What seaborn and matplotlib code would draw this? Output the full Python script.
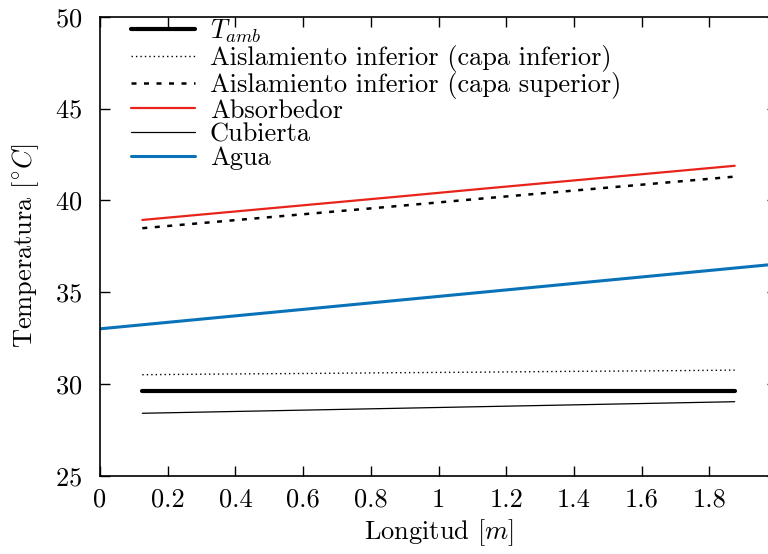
import numpy as np
import pandas as pd
import matplotlib
matplotlib.use("Agg")
import matplotlib.pyplot as plt
import seaborn as sns
from matplotlib.ticker import FuncFormatter

# Node positions along the collector (m)
x_nodes = [0.125, 0.375, 0.625, 0.875, 1.125, 1.375, 1.625, 1.875]
x_water = [0.0, 2.0]

# Temperatures (°C)
t_amb = [29.6, 29.6, 29.6, 29.6, 29.6, 29.6, 29.6, 29.6]
t_ins_low = [30.50, 30.54, 30.57, 30.61, 30.64, 30.68, 30.71, 30.75]
t_ins_up = [38.48, 38.88, 39.28, 39.68, 40.09, 40.49, 40.89, 41.29]
t_abs = [38.93, 39.35, 39.77, 40.19, 40.62, 41.04, 41.46, 41.88]
t_cov = [28.40, 28.49, 28.58, 28.67, 28.76, 28.85, 28.94, 29.03]
t_water = [33.0, 36.53]

labels = [r"$T_{amb}$",
          "Aislamiento inferior (capa inferior)",
          "Aislamiento inferior (capa superior)",
          "Absorbedor",
          "Cubierta",
          "Agua"]

x_ticks = [0, 0.2, 0.4, 0.6, 0.8, 1.0, 1.2, 1.4, 1.6, 1.8]
y_ticks = [25, 30, 35, 40, 45, 50]

sns.set_style("ticks")
plt.rcParams.update({
    "font.family": "serif",
    "font.serif": ["cmr10"],
    "mathtext.fontset": "cm",
    "axes.unicode_minus": False,
    "axes.formatter.use_mathtext": True,
    "font.size": 19,
    "xtick.direction": "in",
    "ytick.direction": "in",
    "xtick.top": True,
    "ytick.right": True,
    "axes.linewidth": 1.2,
    "axes.edgecolor": "black",
    "xtick.color": "black",
    "ytick.color": "black",
    "text.color": "black",
    "axes.labelcolor": "black",
})

fig = plt.figure(figsize=(7.68, 5.54), dpi=100)
ax = fig.add_axes([100 / 768, 78.3 / 554, 677 / 768, 459 / 554])

series = [
    (x_nodes, t_amb, dict(color="black", lw=3.0, ls="-")),
    (x_nodes, t_ins_low, dict(color="black", lw=1.0, ls=(0, (1, 2.2)))),
    (x_nodes, t_ins_up, dict(color="black", lw=1.8, ls=(0, (2.0, 3.0)))),
    (x_nodes, t_abs, dict(color="#e8231a", lw=1.6, ls="-")),
    (x_nodes, t_cov, dict(color="black", lw=0.9, ls="-")),
    (x_water, t_water, dict(color="#0a72b8", lw=2.2, ls="-")),
]

for (xs, ys, style), lab in zip(series, labels):
    df = pd.DataFrame({"x": xs, "y": ys})
    sns.lineplot(data=df, x="x", y="y", ax=ax, label=lab,
                 color=style["color"], linewidth=style["lw"],
                 linestyle=style["ls"])

ax.set_xlim(0, 2)
ax.set_ylim(25, 50)
ax.set_xticks(x_ticks)
ax.set_yticks(y_ticks)
ax.xaxis.set_major_formatter(FuncFormatter(lambda v, p: f"{v:g}"))
ax.tick_params(axis="x", labelsize=19, length=7, width=1.0, pad=9)
ax.tick_params(axis="y", labelsize=19, length=7, width=1.0, pad=13)

ax.set_xlabel(r"Longitud $[m]$", fontsize=19, labelpad=4)
ax.set_ylabel(r"Temperatura $[^{\circ}C]$", fontsize=19, labelpad=10)

ax.legend(loc="upper left", frameon=False, fontsize=19,
          handlelength=2.45, handletextpad=0.55, labelspacing=0.0,
          borderaxespad=0.1, bbox_to_anchor=(0.026, 1.027))

fig.savefig("out.png", dpi=100)
